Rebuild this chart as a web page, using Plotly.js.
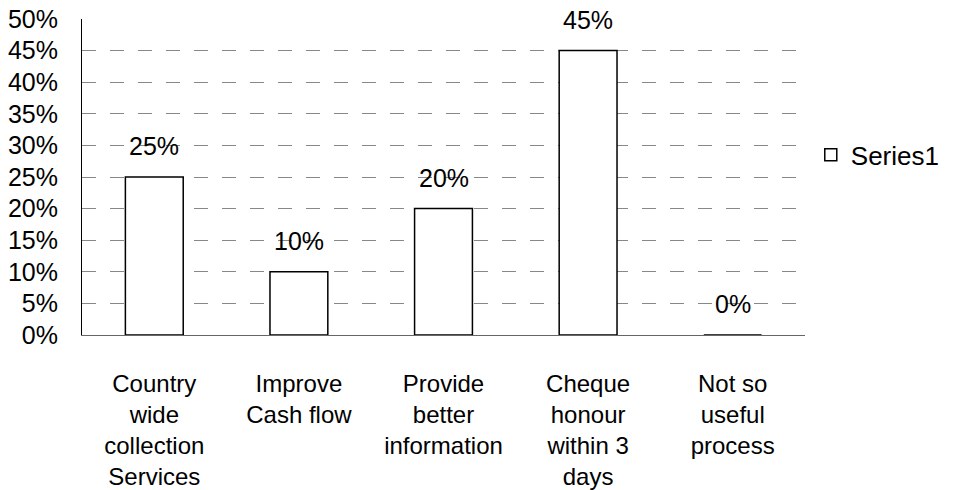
<!DOCTYPE html>
<html>
<head>
<meta charset="utf-8">
<script src="https://cdn.plot.ly/plotly-3.0.1.min.js"></script>
<style>
  html, body { margin: 0; padding: 0; background: #ffffff; }
  #chart { width: 953px; height: 490px; }
</style>
</head>
<body>
<div id="chart"></div>
<script>
// Survey responses: perceived benefit of the collection service
const categories = [
  "Country<br>wide<br>collection<br>Services",
  "Improve<br>Cash flow",
  "Provide<br>better<br>information",
  "Cheque<br>honour<br>within 3<br>days",
  "Not so<br>useful<br>process"
];
const values = [0.25, 0.10, 0.20, 0.45, 0.00];
const seriesName = "Series1";
const tickValues = [0, 0.05, 0.10, 0.15, 0.20, 0.25, 0.30, 0.35, 0.40, 0.45, 0.50];
const tickLabels = ["0%", "5%", "10%", "15%", "20%", "25%", "30%", "35%", "40%", "45%", "50%"];

const family = "Liberation Sans, Arial, sans-serif";
const font = { family: family, size: 24, color: "#000000" };
const bigFont = { family: family, size: 25, color: "#000000" };

const trace = {
  type: "bar",
  x: categories,
  y: values,
  name: seriesName,
  showlegend: true,
  marker: { color: "#ffffff", line: { color: "#000000", width: 1.5 } },
  hoverinfo: "skip"
};

// Value labels sit a fixed distance above each bar top
const labels = values.map((v, i) => ({
  x: categories[i],
  y: v,
  xref: "x",
  yref: "y",
  text: Math.round(v * 100) + "%",
  showarrow: false,
  yanchor: "middle",
  yshift: 31,
  font: bigFont
}));

const layout = {
  width: 953,
  height: 490,
  margin: { l: 82, r: 148, t: 19, b: 155, autoexpand: false },
  paper_bgcolor: "#ffffff",
  plot_bgcolor: "#ffffff",
  font: font,
  bargap: 0.6,
  showlegend: true,
  legend: {
    x: 1.008, xanchor: "left",
    y: 0.57, yanchor: "middle",
    font: { family: family, size: 26, color: "#000000" },
    bgcolor: "rgba(0,0,0,0)",
    itemwidth: 30
  },
  xaxis: {
    type: "category",
    showgrid: false,
    showline: true,
    linecolor: "#666666",
    linewidth: 1,
    ticks: "",
    ticklabelstandoff: 27,
    tickfont: font,
    fixedrange: true
  },
  yaxis: {
    range: [0, 0.5],
    tickvals: tickValues,
    ticktext: tickLabels,
    showgrid: true,
    gridcolor: "#888888",
    gridwidth: 1,
    griddash: "14px,14px",
    zeroline: false,
    showline: true,
    linecolor: "#000000",
    linewidth: 1,
    ticks: "",
    ticklabelstandoff: 18,
    tickfont: bigFont,
    fixedrange: true
  },
  annotations: labels
};

Plotly.newPlot("chart", [trace], layout, { displayModeBar: false, staticPlot: true });
</script>
</body>
</html>
